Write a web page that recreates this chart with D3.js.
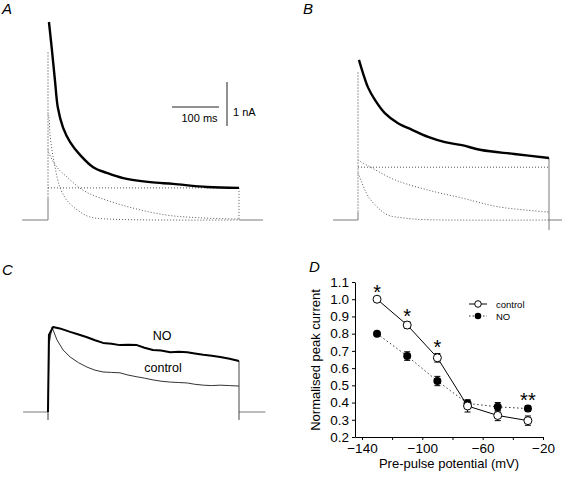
<!DOCTYPE html>
<html><head><meta charset="utf-8">
<script src="https://cdn.jsdelivr.net/npm/d3@7"></script>
<style>
body{margin:0;background:#fff}
svg{display:block;font-family:Arial,"Liberation Sans",Helvetica,sans-serif}
</style>
</head><body>
<svg id="fig" width="562" height="478"></svg>
<script>
// ---------- DATA (time in ms, current in nA) ----------
const pulseEnd = 406;
// Panel A
const aFit  = [[2,4.5],[8,3.9],[15,3.15],[21,2.55],[32,2.1],[47,1.77],[68,1.48],[96,1.2],[125,1.07],[160,0.95],[217,0.86],[266,0.82],[338,0.75],[406,0.73]];
const aFast = [[0,2.4],[2,2.34],[4,1.98],[8.5,1.59],[15,1.2],[25,0.75],[40,0.45],[62,0.23],[89,0.07],[132,0.02],[406,0]];
const aSlow = [[0,1.6],[2,1.52],[19,1.2],[40,0.98],[74,0.68],[111,0.5],[181,0.27],[253,0.11],[323,0.05],[406,0.02]];
const aConst = 0.73;
const aStepTop = 0.5, aTransient = 3.82;
const aBaseL = [-55,0], aBaseR = [406,457];
// Panel B
const bFit  = [[2,3.64],[10.6,3.34],[21,3.02],[36,2.73],[57,2.43],[85,2.2],[115,2.05],[149,1.89],[185,1.77],[221,1.7],[262,1.59],[332,1.5],[406,1.41]];
const bFast = [[0,1.07],[8.5,0.84],[21,0.55],[43,0.27],[64,0.11],[94,0.05],[140,0.01],[406,0]];
const bSlow = [[0,1.36],[30,1.18],[79,0.91],[149,0.68],[221,0.5],[298,0.3],[406,0.18]];
const bConst = 1.2;
const bStepTop = 0.18, bTransient = 3.36, bEndLow = -0.23;
const bBaseL = [-53,0], bBaseR = [406,434];
// Panel C
const cNO = [[0,0],[2,1.75],[10.6,1.93],[25,1.9],[47,1.82],[65,1.76],[83,1.7],[100,1.63],[117,1.57],[135,1.55],[153,1.52],[170,1.53],[189,1.52],[205,1.46],[223,1.41],[240,1.4],[260,1.36],[278,1.37],[296,1.36],[312,1.33],[330,1.3],[348,1.28],[366,1.25],[386,1.21],[406,1.16]];
const cControl = [[0,0],[2,1.52],[8.5,1.93],[19,1.64],[32,1.41],[47,1.25],[65,1.12],[83,1.02],[100,0.95],[117,0.91],[135,0.9],[153,0.89],[170,0.84],[189,0.8],[205,0.77],[223,0.73],[240,0.7],[260,0.68],[278,0.67],[296,0.66],[312,0.63],[330,0.61],[348,0.6],[366,0.61],[386,0.6],[406,0.59]];
const cEndLow = -0.18;
const cBaseL = [-53,0], cBaseR = [406,462];
const scaleBarMs = 100, scaleBarNA = 1;
// Panel D
const potentials  = [-130,-110,-90,-70,-50,-30];
const controlMean = [1.00,0.85,0.66,0.38,0.325,0.295];
const controlErr  = [0.005,0.02,0.025,0.035,0.03,0.027];
const noMean      = [0.80,0.67,0.525,0.395,0.375,0.365];
const noErr       = [0.01,0.025,0.027,0.02,0.025,0.016];
const significance = ["*","*","*","","","**"];
const xTicks = [-140,-120,-100,-80,-60,-40,-20];
const yTicks = [0.2,0.3,0.4,0.5,0.6,0.7,0.8,0.9,1.0,1.1];

// ---------- DRAW ----------
const svg = d3.select("#fig");
const GRAY = "#7a7a7a", DOT = "#555";

function lineGen(xs, ys, curve){ return d3.line().x(d=>xs(d[0])).y(d=>ys(d[1])).curve(curve||d3.curveLinear); }
function path(g, data, xs, ys, stroke, width, dash, curve){
  g.append("path").attr("d", lineGen(xs,ys,curve)(data)).attr("fill","none")
   .attr("stroke",stroke).attr("stroke-width",width).attr("stroke-dasharray",dash||null)
   .attr("stroke-linejoin","round");
}
function letter(x,y,t){
  svg.append("text").attr("x",x).attr("y",y).attr("font-size",15).attr("font-style","italic").text(t);
}
const smooth = d3.curveCatmullRom.alpha(0.5);

// Panel A
{
  const xs = d3.scaleLinear().domain([0,pulseEnd]).range([48,239]);
  const ys = d3.scaleLinear().domain([0,1]).range([220,176]);
  const g = svg.append("g");
  path(g,[[aBaseL[0],0],[aBaseL[1],0],[0,aStepTop]],xs,ys,GRAY,1);
  path(g,[[0,aStepTop],[0,aTransient]],xs,ys,"#999",1,"2,1");
  path(g,[[pulseEnd,0],[aBaseR[1],0]],xs,ys,GRAY,1);
  path(g,[[pulseEnd,aConst],[pulseEnd,0]],xs,ys,DOT,1,"1,2");
  path(g,[[0,aConst],[pulseEnd,aConst]],xs,ys,DOT,1,"1,2");
  path(g,aFast,xs,ys,DOT,1,"1,2",smooth);
  path(g,aSlow,xs,ys,DOT,1,"1,2",smooth);
  path(g,aFit,xs,ys,"#000",2.4,null,smooth);
  // scale bars
  const bx = 172, by = 107;
  g.append("line").attr("x1",bx).attr("x2",bx+xs(scaleBarMs)-xs(0)).attr("y1",by).attr("y2",by).attr("stroke","#222").attr("stroke-width",1);
  g.append("text").attr("x",bx+(xs(scaleBarMs)-xs(0))/2+4).attr("y",by+15).attr("text-anchor","middle").attr("font-size",11).text("100 ms");
  const vx = 227, vy = 82;
  g.append("line").attr("x1",vx).attr("x2",vx).attr("y1",vy).attr("y2",vy+ys(0)-ys(scaleBarNA)).attr("stroke","#222").attr("stroke-width",1);
  g.append("text").attr("x",vx+6).attr("y",vy+34).attr("font-size",11).text("1 nA");
  letter(2,14,"A");
}
// Panel B
{
  const xs = d3.scaleLinear().domain([0,pulseEnd]).range([358,549]);
  const ys = d3.scaleLinear().domain([0,1]).range([220,176]);
  const g = svg.append("g");
  path(g,[[bBaseL[0],0],[bBaseL[1],0],[0,bStepTop]],xs,ys,GRAY,1);
  path(g,[[0,bStepTop],[0,bTransient]],xs,ys,"#999",1,"2,1");
  path(g,[[pulseEnd,bFit[bFit.length-1][1]],[pulseEnd,bEndLow]],xs,ys,GRAY,1);
  path(g,[[pulseEnd,0],[bBaseR[1],0]],xs,ys,GRAY,1);
  path(g,[[0,bConst],[pulseEnd,bConst]],xs,ys,DOT,1,"1,2");
  path(g,bFast,xs,ys,DOT,1,"1,2",smooth);
  path(g,bSlow,xs,ys,DOT,1,"1,2",smooth);
  path(g,bFit,xs,ys,"#000",2.4,null,smooth);
  letter(303,14,"B");
}
// Panel C
{
  const xs = d3.scaleLinear().domain([0,pulseEnd]).range([48,239]);
  const ys = d3.scaleLinear().domain([0,1]).range([412,368]);
  const g = svg.append("g");
  path(g,[[cBaseL[0],0],[0,0],[0,cEndLow],[0,0]],xs,ys,GRAY,1);
  path(g,[[pulseEnd,0],[cBaseR[1],0]],xs,ys,GRAY,1);
  path(g,[[pulseEnd,cNO[cNO.length-1][1]],[pulseEnd,cEndLow]],xs,ys,"#444",1);
  path(g,cControl,xs,ys,"#333",1);
  path(g,cNO,xs,ys,"#000",2);
  g.append("text").attr("x",162).attr("y",340).attr("text-anchor","middle").attr("font-size",12.5).text("NO");
  g.append("text").attr("x",163).attr("y",372).attr("text-anchor","middle").attr("font-size",12.5).text("control");
  letter(2,275,"C");
}
// Panel D
{
  const xs = d3.scaleLinear().domain([-144.6,-20]).range([355,543]);
  const ys = d3.scaleLinear().domain([0.2,1.1]).range([437,282]);
  const g = svg.append("g");
  const ax = g.append("g").attr("transform","translate(0,437)")
    .call(d3.axisBottom(xs).tickValues(xTicks).tickSize(3).tickSizeOuter(0).tickPadding(3)
      .tickFormat(d => ((d+140)%40===0) ? d3.format("")(d) : ""));
  const ay = g.append("g").attr("transform","translate(355,0)")
    .call(d3.axisLeft(ys).tickValues(yTicks).tickSize(3).tickSizeOuter(0).tickPadding(3).tickFormat(d3.format(".1f")));
  [ax,ay].forEach(a=>{a.selectAll("text").attr("font-size",13.5).attr("fill","#000").attr("font-family",'Arial,"Liberation Sans",sans-serif');
    a.selectAll("line,path").attr("stroke","#000");});
  g.append("text").attr("x",449).attr("y",468).attr("text-anchor","middle").attr("font-size",13).text("Pre-pulse potential (mV)");
  g.append("text").attr("transform","translate(320,360) rotate(-90)").attr("text-anchor","middle").attr("font-size",13).text("Normalised peak current");

  const ctrl = potentials.map((p,i)=>[p,controlMean[i],controlErr[i]]);
  const no = potentials.map((p,i)=>[p,noMean[i],noErr[i]]);
  const ln = d3.line().x(d=>xs(d[0])).y(d=>ys(d[1]));
  g.append("path").attr("d",ln(no)).attr("fill","none").attr("stroke","#333").attr("stroke-dasharray","1.5,2.5");
  g.append("path").attr("d",ln(ctrl)).attr("fill","none").attr("stroke","#000").attr("stroke-width",1);
  [ctrl,no].forEach(s=>s.forEach(d=>{
    const x=xs(d[0]), y1=ys(d[1]-d[2]), y2=ys(d[1]+d[2]);
    g.append("line").attr("x1",x).attr("x2",x).attr("y1",y1).attr("y2",y2).attr("stroke","#000");
    g.append("line").attr("x1",x-3).attr("x2",x+3).attr("y1",y1).attr("y2",y1).attr("stroke","#000");
    g.append("line").attr("x1",x-3).attr("x2",x+3).attr("y1",y2).attr("y2",y2).attr("stroke","#000");
  }));
  g.selectAll("circle.no").data(no).join("circle").attr("class","no").attr("cx",d=>xs(d[0])).attr("cy",d=>ys(d[1])).attr("r",4).attr("fill","#000");
  g.selectAll("circle.ct").data(ctrl).join("circle").attr("class","ct").attr("cx",d=>xs(d[0])).attr("cy",d=>ys(d[1])).attr("r",4).attr("fill","#fff").attr("stroke","#000").attr("stroke-width",1);
  potentials.forEach((p,i)=>{
    if(!significance[i]) return;
    const top = Math.max(controlMean[i]+controlErr[i], noMean[i]+noErr[i]);
    g.append("text").attr("x",xs(p)).attr("y",ys(top)+1).attr("text-anchor","middle").attr("font-size",20).text(significance[i]);
  });
  // legend
  const lx = 469, ly1 = 304, ly2 = 316;
  g.append("line").attr("x1",lx).attr("x2",lx+18).attr("y1",ly1).attr("y2",ly1).attr("stroke","#000");
  g.append("circle").attr("cx",lx+9).attr("cy",ly1).attr("r",3.3).attr("fill","#fff").attr("stroke","#000");
  g.append("text").attr("x",lx+27).attr("y",ly1+3.5).attr("font-size",9.5).text("control");
  g.append("line").attr("x1",lx).attr("x2",lx+18).attr("y1",ly2).attr("y2",ly2).attr("stroke","#333").attr("stroke-dasharray","1.5,2");
  g.append("circle").attr("cx",lx+9).attr("cy",ly2).attr("r",3.3).attr("fill","#000");
  g.append("text").attr("x",lx+27).attr("y",ly2+3.5).attr("font-size",9.5).text("NO");
  letter(309,272,"D");
}
</script>
</body></html>
